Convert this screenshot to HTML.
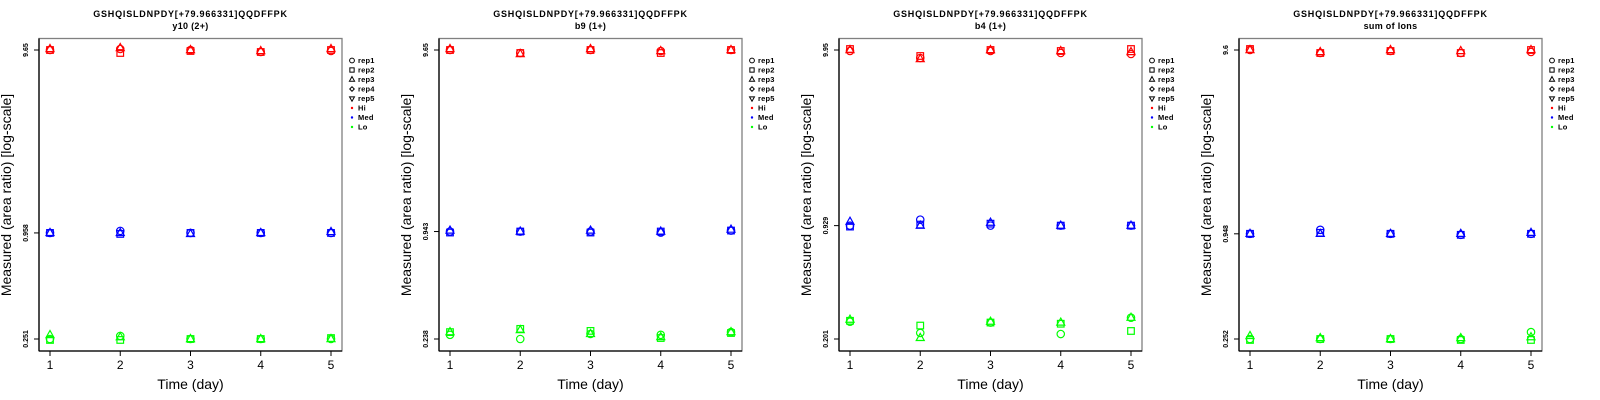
<!DOCTYPE html>
<html><head><meta charset="utf-8"><style>
html,body{margin:0;padding:0;background:#fff;}
svg{display:block;font-family:"Liberation Sans",sans-serif;}
</style></head><body>
<svg id="chart" width="1600" height="400" xmlns="http://www.w3.org/2000/svg"></svg>
<script>
const days = [1,2,3,4,5];
const panelSubtitles = ["y10 (2+)","b9 (1+)","b4 (1+)","sum of Ions"];
const peptide = "GSHQISLDNPDY[+79.966331]QQDFFPK";
const tickValues = [[9.65,0.958,0.251],[9.65,0.943,0.238],[9.95,0.929,0.201],[9.6,0.948,0.252]];
const tickLabels = [["9.65","0.958","0.251"],["9.65","0.943","0.238"],["9.95","0.929","0.201"],["9.6","0.948","0.252"]];
const reps = ["rep1","rep2","rep3","rep4","rep5"];
const levels = ["Hi","Med","Lo"];
const levelColors = ["#ff0000","#0000ff","#00ff00"];
// values [panel][level][day][rep1..rep3]
const hiValues = [
 [[9.65,9.65,9.772],[9.772,9.292,9.897],[9.65,9.529,9.65],[9.41,9.41,9.529],[9.529,9.65,9.772]],
 [[9.65,9.65,9.774],[9.286,9.286,9.168],[9.65,9.65,9.774],[9.527,9.286,9.527],[9.65,9.65,9.65]],
 [[9.817,10.085,9.95],[8.931,9.176,8.811],[9.817,9.95,9.95],[9.555,9.817,9.817],[9.427,10.085,9.685]],
 [[9.6,9.722,9.6],[9.244,9.244,9.361],[9.48,9.48,9.6],[9.244,9.244,9.48],[9.361,9.6,9.6]]
];
const medValues = [
 [[0.958,0.958,0.958],[0.983,0.946,0.958],[0.958,0.958,0.946],[0.958,0.958,0.958],[0.958,0.958,0.970]],
 [[0.943,0.931,0.955],[0.943,0.943,0.943],[0.943,0.931,0.955],[0.931,0.943,0.943],[0.955,0.955,0.967]],
 [[0.929,0.917,0.980],[1.007,0.942,0.929],[0.929,0.954,0.967],[0.929,0.929,0.929],[0.929,0.929,0.929]],
 [[0.948,0.948,0.948],[0.997,0.960,0.948],[0.948,0.948,0.948],[0.936,0.936,0.948],[0.948,0.948,0.960]]
];
const loValues = [
 [[0.251,0.248,0.264],[0.261,0.248,0.257],[0.251,0.251,0.251],[0.251,0.251,0.251],[0.251,0.254,0.251]],
 [[0.251,0.260,0.260],[0.238,0.271,0.267],[0.254,0.264,0.254],[0.251,0.241,0.244],[0.260,0.257,0.260]],
 [[0.254,0.257,0.261],[0.218,0.241,0.204],[0.251,0.251,0.254],[0.215,0.247,0.251],[0.268,0.224,0.268]],
 [[0.252,0.249,0.262],[0.252,0.252,0.255],[0.252,0.252,0.252],[0.252,0.249,0.255],[0.275,0.249,0.258]]
];

const NS = "http://www.w3.org/2000/svg";
const svg = document.getElementById("chart");
function mk(tag, attrs, parent){
  const e = document.createElementNS(NS, tag);
  for (const k in attrs) e.setAttribute(k, attrs[k]);
  (parent||svg).appendChild(e);
  return e;
}
function marker(shape, cx, cy, color, parent, sz){
  const s = sz||1;
  const sw = sz ? 1 : 1.2;
  let e;
  if (shape===0) e = mk("circle",{cx:cx,cy:cy,r:3.7*s,fill:"none",stroke:color,"stroke-width":sw},parent);
  else if (shape===1) e = mk("rect",{x:cx-3.3*s,y:cy-3.3*s,width:6.6*s,height:6.6*s,fill:"none",stroke:color,"stroke-width":sw},parent);
  else if (shape===2) e = mk("polygon",{points:`${cx},${cy-4.5*s} ${cx+4*s},${cy+2.6*s} ${cx-4*s},${cy+2.6*s}`,fill:"none",stroke:color,"stroke-width":sw},parent);
  else if (shape===3) e = mk("polygon",{points:`${cx},${cy-3.5*s} ${cx+3.5*s},${cy} ${cx},${cy+3.5*s} ${cx-3.5*s},${cy}`,fill:"none",stroke:color,"stroke-width":sw},parent);
  else e = mk("polygon",{points:`${cx},${cy+4.2*s} ${cx+3.8*s},${cy-2.5*s} ${cx-3.8*s},${cy-2.5*s}`,fill:"none",stroke:color,"stroke-width":sw},parent);
  return e;
}
const allValues = [hiValues, medValues, loValues];
for (let p=0; p<4; p++){
  const ox = p*400;
  const L = ox+39, R = ox+342, T = 38.5, B = 351;
  const g = mk("g",{});
  
  
  const lhi = Math.log10(tickValues[p][0]), llo = Math.log10(tickValues[p][2]);
  const yScale = v => 50 + (lhi - Math.log10(v)) / (lhi - llo) * 289;
  const xScale = d => L + 11 + (d-1) * 70.25;
  const cx = (L+R)/2;
  const t1 = mk("text",{x:cx,y:17,"text-anchor":"middle","font-size":"9","font-weight":"bold","letter-spacing":"0.8",fill:"#000"},g);
  t1.textContent = peptide;
  
  
  const t2 = mk("text",{x:cx,y:29,"text-anchor":"middle","font-size":"9","font-weight":"bold","letter-spacing":"0.3",fill:"#000"},g);
  t2.textContent = panelSubtitles[p];
  
  
  const box = mk("rect",{x:L,y:T,width:R-L,height:B-T,fill:"none",stroke:"#808080","stroke-width":1.3},g);
  
  
  const yl = mk("line",{x1:L,y1:T,x2:L,y2:B,stroke:"#000","stroke-width":1.3},g);
  
  
  const xl = mk("line",{x1:L,y1:B,x2:R,y2:B,stroke:"#000","stroke-width":1.3},g);
  
  
  for (let i=0;i<3;i++){
    const y = yScale(tickValues[p][i]);
    const tk = mk("line",{x1:L-5,y1:y,x2:L,y2:y,stroke:"#000","stroke-width":1},g);
    
    
    const tl = mk("text",{x:0,y:0,transform:`translate(${L-11},${y}) rotate(-90)`,"text-anchor":"middle","font-size":"7","font-weight":"bold",fill:"#000"},g);
    tl.textContent = tickLabels[p][i];
    
    
  }
  for (const d of days){
    const x = xScale(d);
    const tk = mk("line",{x1:x,y1:B,x2:x,y2:B+5,stroke:"#000","stroke-width":1},g);
    
    
    const tl = mk("text",{x:x,y:369,"text-anchor":"middle","font-size":"12",fill:"#000"},g);
    tl.textContent = String(d);
    
    
  }
  const xt = mk("text",{x:cx,y:389,"text-anchor":"middle","font-size":"14",fill:"#000"},g);
  xt.textContent = "Time (day)";
  
  
  const yt = mk("text",{x:0,y:0,transform:`translate(${L-28},195) rotate(-90)`,"text-anchor":"middle","font-size":"14",fill:"#000"},g);
  yt.textContent = "Measured (area ratio) [log-scale]";
  
  
  for (let lv=0; lv<3; lv++){
    for (let di=0; di<days.length; di++){
      const vals = allValues[lv][p][di];
      for (let r=0; r<vals.length; r++){
        const m = marker(r, xScale(days[di]), yScale(vals[r]), levelColors[lv], g);
        
        
      }
    }
  }
  const lg = mk("g",{},g);
  
  
  const lx = L+313;
  for (let i=0;i<8;i++){
    const y = 60.5 + i*9.5;
    const eg = mk("g",{},lg);
    
    
    let label;
    if (i<5){ marker(i, lx, y, "#000", eg, 0.65); label = reps[i]; }
    else { mk("circle",{cx:lx,cy:y,r:1.2,fill:levelColors[i-5]},eg); label = levels[i-5]; }
    const t = mk("text",{x:lx+6,y:y+2.7,"font-size":"7.5","font-weight":"bold","letter-spacing":"0.2",fill:"#000"},eg);
    t.textContent = label;
  }
}
</script>
</body></html>
